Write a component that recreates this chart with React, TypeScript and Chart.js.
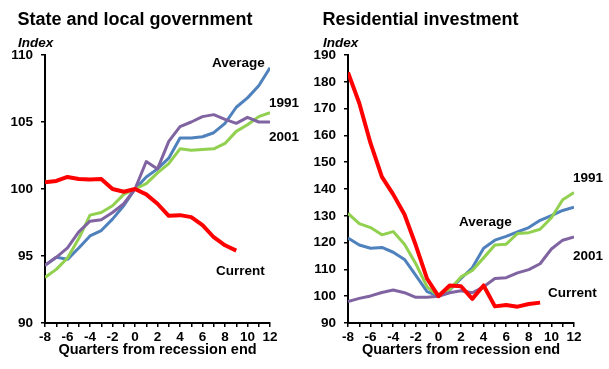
import React, { useEffect, useRef } from "react";
import { Chart, registerables } from "chart.js";
Chart.register(...registerables);

const quarters = [-8, -7, -6, -5, -4, -3, -2, -1, 0, 1, 2, 3, 4, 5, 6, 7, 8, 9, 10, 11, 12];

const slgCurrent = [100.5, 100.6, 100.9, 100.75, 100.7, 100.75, 100.0, 99.8, 100, 99.6, 98.9, 98.0, 98.05, 97.9, 97.3, 96.4, 95.8, 95.4];
const slgAverage = [94.3, 94.9, 94.75, 95.6, 96.5, 96.9, 97.75, 98.75, 100, 100.9, 101.5, 102.3, 103.8, 103.8, 103.9, 104.2, 104.9, 106.1, 106.8, 107.7, 109.05];
const slg1991 = [93.4, 94.0, 94.85, 96.3, 98.05, 98.25, 98.75, 99.6, 100, 100.4, 101.2, 101.9, 103.0, 102.9, 102.95, 103.0, 103.4, 104.3, 104.8, 105.4, 105.7];
const slg2001 = [94.3, 94.9, 95.6, 96.8, 97.6, 97.7, 98.25, 98.9, 100, 102.05, 101.5, 103.55, 104.65, 105.0, 105.4, 105.55, 105.2, 104.9, 105.35, 105.0, 105.0];

const resCurrent = [183.5, 172, 157, 144.5, 138, 130.5, 119, 106.5, 100, 104, 103.7, 99, 104, 96.2, 96.7, 96.1, 97.1, 97.6];
const resAverage = [121.7, 119.1, 117.9, 118.2, 116.4, 113.7, 107.8, 101.7, 100, 102.3, 106.6, 110.6, 117.9, 120.9, 122.3, 124.0, 125.6, 128.3, 130.1, 132.0, 133.2];
const res1991 = [130.9, 127.1, 125.6, 122.9, 124.1, 119.4, 112.1, 103.5, 100, 102.5, 107.2, 109.6, 114.3, 119.1, 119.4, 123.4, 123.7, 125.0, 129.3, 136.0, 138.7];
const res2001 = [98.0, 99.2, 100.1, 101.4, 102.3, 101.3, 99.6, 99.6, 100, 101.3, 102.0, 101.3, 103.5, 106.6, 106.9, 108.7, 109.9, 112.1, 117.6, 120.9, 122.1];

const FONT = "'Liberation Sans', Arial, sans-serif";

const pts = (vals: number[]) => vals.map((v, i) => ({ x: quarters[i], y: v }));

type Label = { text: string; x: number; y: number };

type PanelProps = {
  title: string;
  current: number[];
  average: number[];
  y1991: number[];
  y2001: number[];
  yMin: number;
  yMax: number;
  yStep: number;
  axisWidth: number;
  width: number;
  left: number;
  labels: Label[];
};

function Panel(p: PanelProps) {
  const ref = useRef<HTMLCanvasElement>(null);
  useEffect(() => {
    if (!ref.current) return;
    const textPlugin = {
      id: "texts",
      afterDraw(chart: any) {
        const ctx = chart.ctx;
        ctx.save();
        ctx.fillStyle = "#000";
        ctx.textAlign = "left";
        ctx.textBaseline = "alphabetic";
        ctx.font = `bold 18px ${FONT}`;
        ctx.fillText(p.title, 17.5, 25);
        ctx.font = `italic bold 13.5px ${FONT}`;
        ctx.fillText("Index", 18, 47);
        ctx.font = `bold 13.5px ${FONT}`;
        ctx.textBaseline = "middle";
        p.labels.forEach((l) => ctx.fillText(l.text, l.x, l.y));
        ctx.restore();
      },
    };
    const chart = new Chart(ref.current, {
      type: "line",
      data: {
        datasets: [
          { label: "Current", data: pts(p.current), borderColor: "#FF0000", borderWidth: 4 },
          { label: "2001", data: pts(p.y2001), borderColor: "#8064A2", borderWidth: 3 },
          { label: "1991", data: pts(p.y1991), borderColor: "#92D050", borderWidth: 3 },
          { label: "Average", data: pts(p.average), borderColor: "#4F81BD", borderWidth: 3 },
        ],
      },
      options: {
        animation: false,
        responsive: false,
        devicePixelRatio: 1,
        layout: { padding: { top: 55, right: 35, bottom: 0, left: 0 } },
        elements: { point: { radius: 0 }, line: { tension: 0, borderJoinStyle: "round", borderCapStyle: "butt" } },
        plugins: { legend: { display: false }, tooltip: { enabled: false }, title: { display: false } },
        scales: {
          x: {
            type: "linear",
            min: -8,
            max: 12,
            afterFit: (s: any) => { s.height = 46; },
            border: { display: true, color: "#000", width: 2 },
            grid: { display: true, drawOnChartArea: false, drawTicks: true, tickLength: 4, color: "#000", lineWidth: 1.5 },
            ticks: {
              stepSize: 1,
              autoSkip: false,
              maxRotation: 0,
              padding: 2,
              color: "#000",
              font: { family: FONT, size: 13.5, weight: "bold" },
              callback: (v: any) => (Number(v) % 2 === 0 ? String(v) : ""),
            },
            title: {
              display: true,
              text: "Quarters from recession end",
              color: "#000",
              font: { family: FONT, size: 14.5, weight: "bold" },
              padding: { top: 0, bottom: 10 },
            },
          },
          y: {
            type: "linear",
            min: p.yMin,
            max: p.yMax,
            afterFit: (s: any) => { s.width = p.axisWidth; },
            border: { display: true, color: "#000", width: 2 },
            grid: { display: true, drawOnChartArea: false, drawTicks: true, tickLength: 4, color: "#000", lineWidth: 1.5 },
            ticks: {
              stepSize: p.yStep,
              padding: 8,
              color: "#000",
              font: { family: FONT, size: 13.5, weight: "bold" },
            },
          },
        },
      },
      plugins: [textPlugin],
    } as any);
    return () => chart.destroy();
  }, []);
  return (
    <canvas
      ref={ref}
      width={p.width}
      height={369}
      style={{ position: "absolute", left: p.left, top: 0, width: p.width, height: 369 }}
    />
  );
}

export default function App() {
  return (
    <div style={{ position: "fixed", left: 0, top: 0, width: 609, height: 369, background: "#fff" }}>
      <Panel
        title="State and local government"
        current={slgCurrent}
        average={slgAverage}
        y1991={slg1991}
        y2001={slg2001}
        yMin={90}
        yMax={110}
        yStep={5}
        axisWidth={45}
        width={305}
        left={0}
        labels={[
          { text: "Average", x: 212, y: 63 },
          { text: "1991", x: 269, y: 103 },
          { text: "2001", x: 269, y: 137 },
          { text: "Current", x: 216, y: 271 },
        ]}
      />
      <Panel
        title="Residential investment"
        current={resCurrent}
        average={resAverage}
        y1991={res1991}
        y2001={res2001}
        yMin={90}
        yMax={190}
        yStep={10}
        axisWidth={43}
        width={304}
        left={305}
        labels={[
          { text: "1991", x: 268, y: 178 },
          { text: "Average", x: 154, y: 222 },
          { text: "2001", x: 268, y: 256 },
          { text: "Current", x: 243, y: 293 },
        ]}
      />
    </div>
  );
}
